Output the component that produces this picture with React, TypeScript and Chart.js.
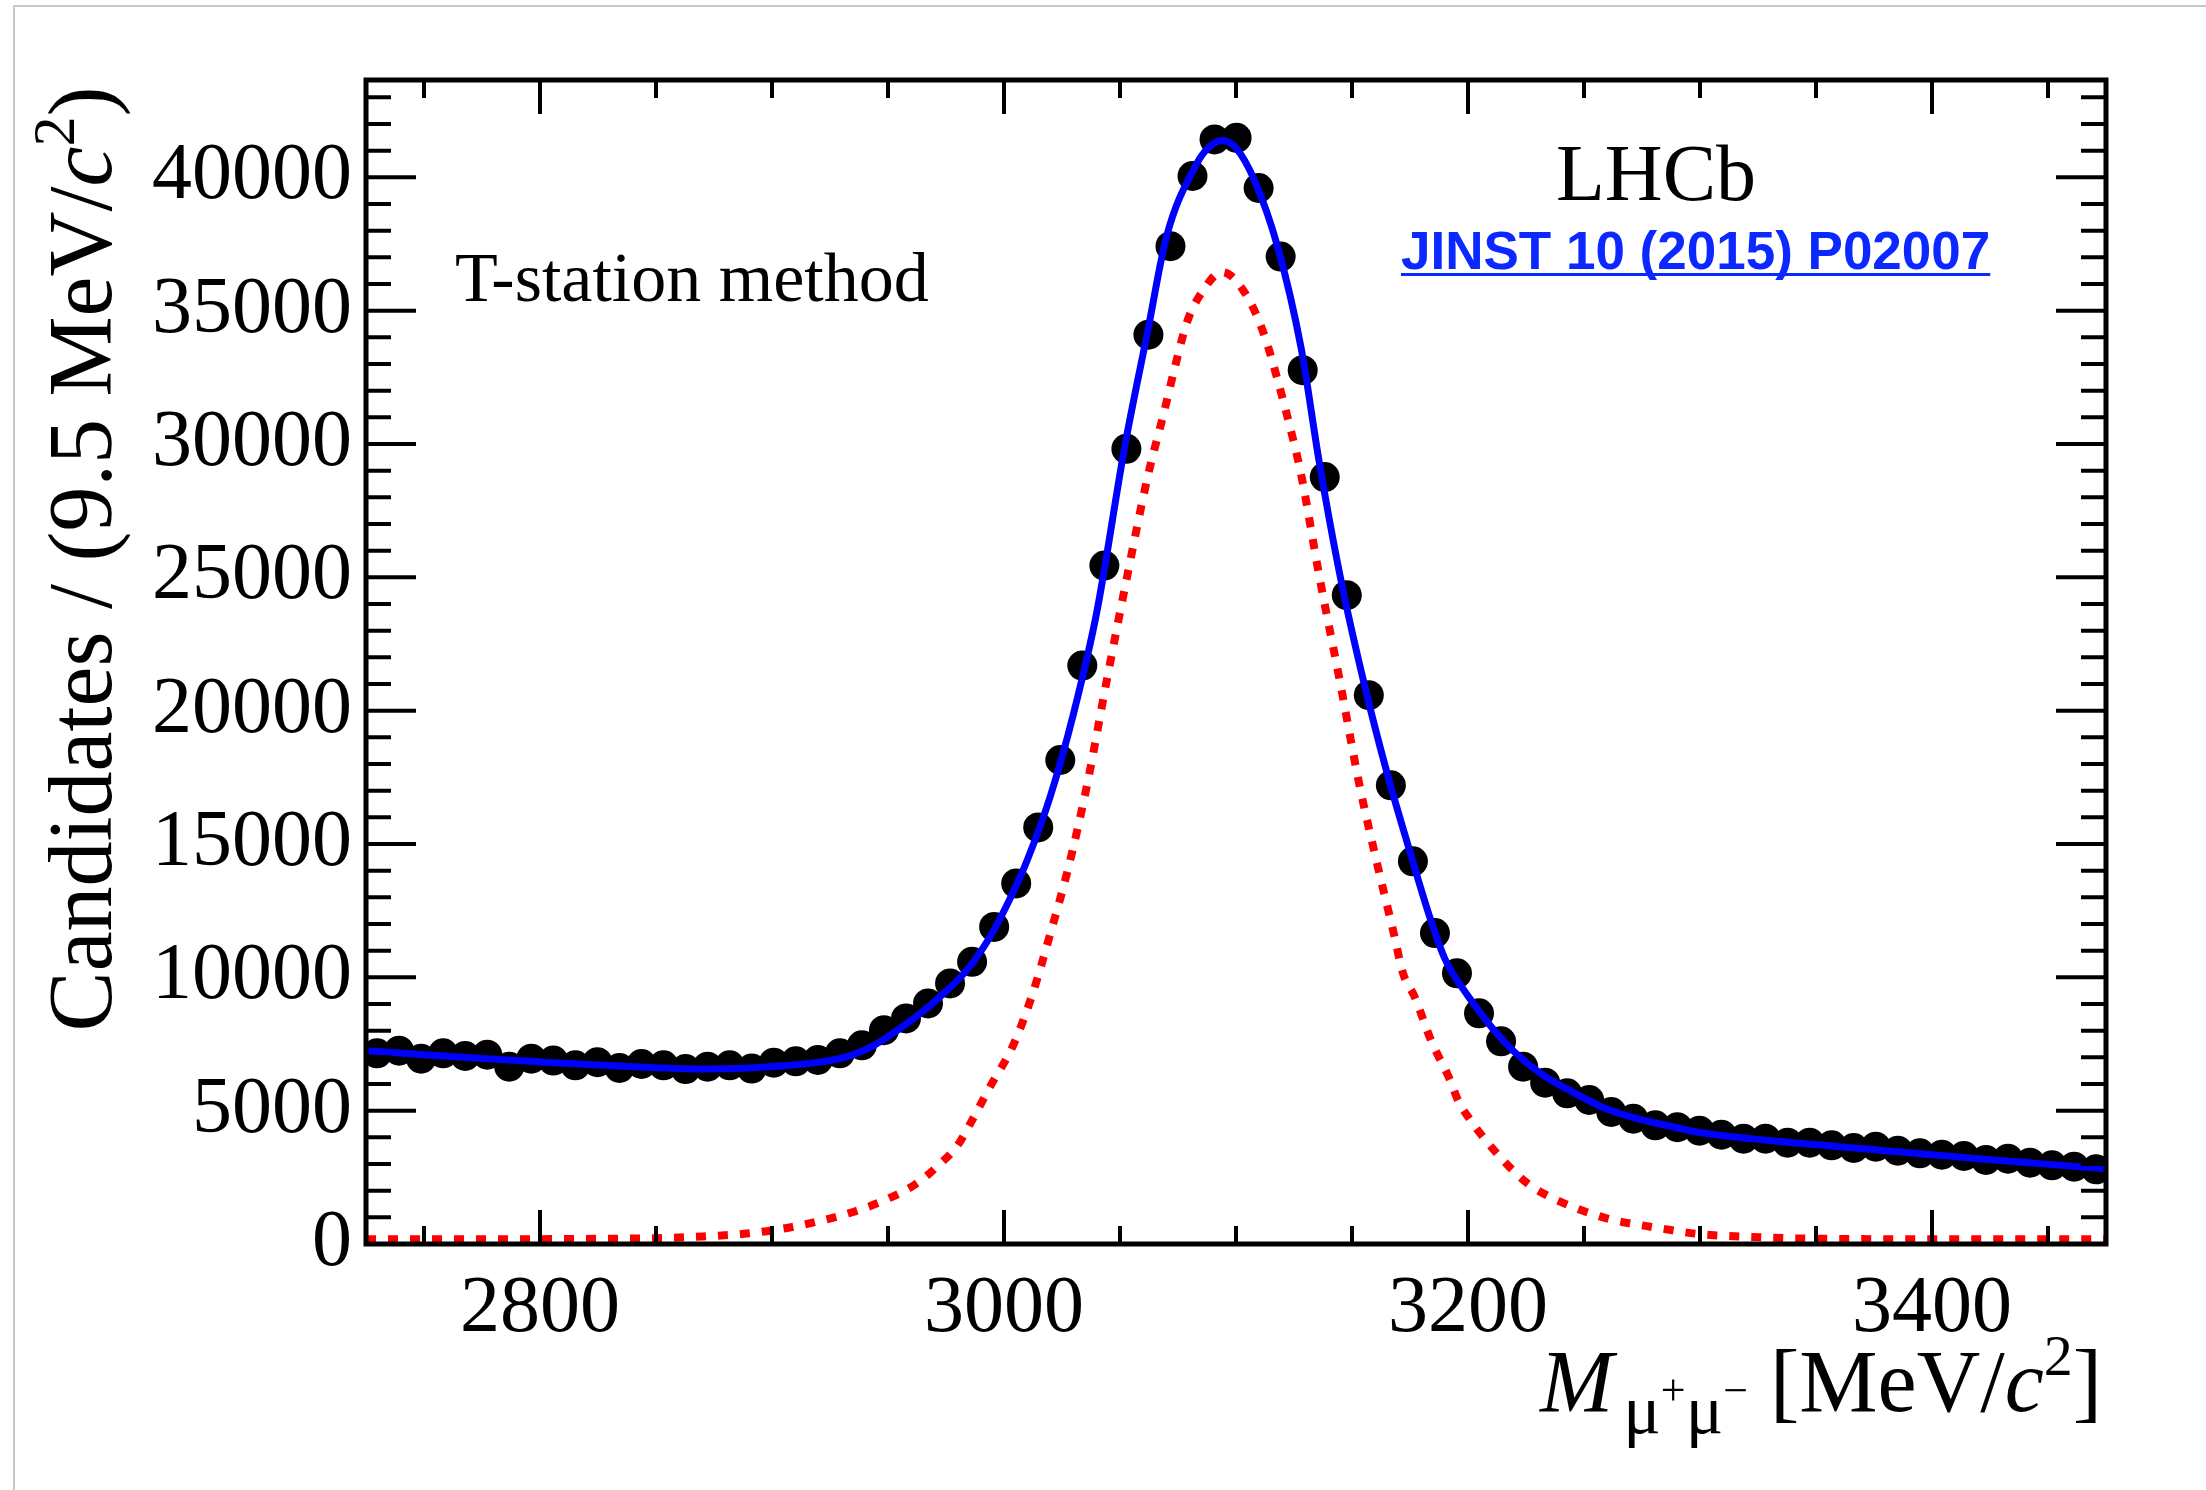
import React, { useEffect, useRef } from 'react';
import { Chart, registerables } from 'chart.js';

Chart.register(...registerables);

// ---- Histogram definition (9.5 MeV/c^2 bins) ----
const BIN_LOW = 2725;
const BIN_WIDTH = 9.5;
const X_MIN = 2725;
const X_MAX = 3475;
const Y_MIN = 0;
const Y_MAX = 43650;

// Candidates per bin
const counts = [
  7150, 7250, 6950, 7150, 7050, 7100, 6650, 6950, 6880, 6700,
  6820, 6600, 6750, 6700, 6560, 6650, 6700, 6580, 6800, 6850,
  6900, 7150, 7450, 8020, 8460, 9020, 9770, 10580, 11890, 13520,
  15620, 18150, 21690, 25440, 29820, 34100, 37420, 40050, 41420, 41480,
  39600, 37030, 32770, 28760, 24330, 20580, 17200, 14350, 11660, 10150,
  8650, 7600, 6650, 6050, 5650, 5400, 4950, 4700, 4450, 4380,
  4250, 4100, 3950, 3950, 3800, 3800, 3700, 3600, 3650, 3500,
  3400, 3350, 3300, 3150, 3200, 3050, 2950, 2900, 2800,
];

// Total fit (blue), sampled from the figure
const fitMass = [
  2725, 2750, 2775, 2800, 2825, 2850, 2870, 2890, 2910, 2925,
  2935, 2945, 2953, 2964, 2974, 2984, 2994, 3003, 3010, 3020,
  3030, 3040, 3052, 3062, 3070, 3083, 3088, 3094, 3100, 3108,
  3118, 3128, 3136, 3145, 3155, 3165, 3175, 3183, 3190, 3200,
  3210, 3220, 3232, 3244, 3258, 3273, 3288, 3300, 3330, 3360,
  3380, 3400, 3420, 3440, 3460, 3475,
];
const fitValues = [
  7250, 7100, 6960, 6830, 6710, 6610, 6560, 6600, 6720, 6880,
  7100, 7500, 7950, 8650, 9400, 10270, 11520, 13020, 14390, 16800,
  19900, 23700, 29880, 34260, 37760, 40500, 41100, 41380, 41100, 39880,
  37380, 33630, 29260, 25000, 21100, 17700, 14700, 12400, 10700, 9300,
  8150, 7200, 6350, 5750, 5130, 4700, 4400, 4180, 3880, 3650,
  3500, 3350, 3200, 3060, 2920, 2820,
];

// Signal component (red dashed), sampled from the figure
const signalMass = [
  2725, 2775, 2820, 2850, 2870, 2890, 2905, 2920, 2935, 2950,
  2962, 2973, 2980, 2986, 2994, 3004, 3012, 3020, 3028, 3036,
  3044, 3053, 3062, 3069, 3074, 3079, 3085, 3094, 3104, 3112,
  3118, 3124, 3128, 3136, 3145, 3153, 3161, 3168, 3172, 3177,
  3184, 3192, 3196, 3201, 3207, 3215, 3226, 3237, 3259, 3282,
  3299, 3326, 3348, 3400, 3475,
];
const signalValues = [
  180, 180, 190, 220, 280, 400, 580, 850, 1200, 1700,
  2250, 3050, 3700, 4600, 5900, 7460, 9300, 11650, 14200, 17300,
  21000, 25000, 28800, 31200, 33000, 34600, 35650, 36450, 35650, 34130,
  32380, 30390, 28890, 25000, 21000, 17300, 14200, 11650, 10150, 9270,
  7650, 6200, 5330, 4650, 3960, 3150, 2250, 1700, 980, 600,
  380, 250, 200, 180, 180,
];

// Axis ticks
const xMajorTicks = [2800, 3000, 3200, 3400];
const xMinorTicks = [2750, 2850, 2900, 2950, 3050, 3100, 3150, 3250, 3300, 3350, 3450];
const yMajorTicks = [0, 5000, 10000, 15000, 20000, 25000, 30000, 35000, 40000];
const Y_MINOR_STEP = 1000;

const SERIF = "'Liberation Serif', 'Times New Roman', serif";
const SANS = "'Liberation Sans', Arial, Helvetica, sans-serif";

type Run = { t: string; f: string; dy?: number };

function runsWidth(ctx: CanvasRenderingContext2D, runs: Run[]) {
  let w = 0;
  for (const r of runs) {
    ctx.font = r.f;
    w += ctx.measureText(r.t).width;
  }
  return w;
}

function drawRuns(ctx: CanvasRenderingContext2D, runs: Run[], x: number, y: number) {
  let cx = x;
  ctx.textAlign = 'left';
  ctx.textBaseline = 'alphabetic';
  for (const r of runs) {
    ctx.font = r.f;
    ctx.fillText(r.t, cx, y + (r.dy || 0));
    cx += ctx.measureText(r.t).width;
  }
}

const rootStylePlugin = {
  id: 'rootStyle',
  beforeDraw(chart: any) {
    const ctx: CanvasRenderingContext2D = chart.ctx;
    ctx.save();
    ctx.fillStyle = '#ffffff';
    ctx.fillRect(0, 0, chart.width, chart.height);
    ctx.strokeStyle = '#c8c8c8';
    ctx.lineWidth = 2;
    ctx.beginPath();
    ctx.moveTo(14, chart.height);
    ctx.lineTo(14, 6);
    ctx.lineTo(chart.width, 6);
    ctx.stroke();
    ctx.restore();
  },
  afterDatasetsDraw(chart: any) {
    const ctx: CanvasRenderingContext2D = chart.ctx;
    const a = chart.chartArea;
    const xs = chart.scales.x;
    const ys = chart.scales.y;
    ctx.save();
    ctx.strokeStyle = '#000';
    ctx.lineWidth = 4;
    ctx.lineCap = 'butt';
    ctx.beginPath();
    const xTick = (v: number, len: number) => {
      const px = xs.getPixelForValue(v);
      ctx.moveTo(px, a.bottom);
      ctx.lineTo(px, a.bottom - len);
      ctx.moveTo(px, a.top);
      ctx.lineTo(px, a.top + len);
    };
    const yTick = (v: number, len: number) => {
      const py = ys.getPixelForValue(v);
      ctx.moveTo(a.left, py);
      ctx.lineTo(a.left + len, py);
      ctx.moveTo(a.right, py);
      ctx.lineTo(a.right - len, py);
    };
    xMajorTicks.forEach((v) => xTick(v, 34));
    xMinorTicks.forEach((v) => xTick(v, 18));
    for (let v = Y_MIN; v <= Y_MAX; v += Y_MINOR_STEP) {
      if (yMajorTicks.indexOf(v) >= 0) yTick(v, 50);
      else yTick(v, 25);
    }
    ctx.stroke();
    ctx.lineWidth = 5;
    ctx.strokeRect(a.left, a.top, a.right - a.left, a.bottom - a.top);
    ctx.restore();
  },
  afterDraw(chart: any) {
    const ctx: CanvasRenderingContext2D = chart.ctx;
    const a = chart.chartArea;
    ctx.save();
    ctx.fillStyle = '#000';

    // Y axis title (rotated)
    const yRuns: Run[] = [
      { t: 'Candidates / (9.5 MeV/', f: `90px ${SERIF}` },
      { t: 'c', f: `italic 90px ${SERIF}` },
      { t: '2', f: `60px ${SERIF}`, dy: -37 },
      { t: ')', f: `90px ${SERIF}` },
    ];
    const yw = runsWidth(ctx, yRuns);
    ctx.save();
    ctx.translate(111, 559);
    ctx.rotate(-Math.PI / 2);
    drawRuns(ctx, yRuns, -yw / 2, 0);
    ctx.restore();

    // X axis title, right-aligned to the frame
    const xRuns: Run[] = [
      { t: 'M', f: `italic 88px ${SERIF}` },
      { t: ' ', f: `40px ${SERIF}` },
      { t: 'μ', f: `70px ${SERIF}`, dy: 22 },
      { t: '+', f: `44px ${SERIF}`, dy: -6 },
      { t: 'μ', f: `70px ${SERIF}`, dy: 22 },
      { t: '−', f: `44px ${SERIF}`, dy: -6 },
      { t: ' [MeV/', f: `88px ${SERIF}` },
      { t: 'c', f: `italic 88px ${SERIF}` },
      { t: '2', f: `58px ${SERIF}`, dy: -36 },
      { t: ']', f: `88px ${SERIF}` },
    ];
    const xw = runsWidth(ctx, xRuns);
    drawRuns(ctx, xRuns, a.right - 4 - xw, 1411);

    // Annotations
    ctx.font = `70px ${SERIF}`;
    ctx.textAlign = 'left';
    ctx.textBaseline = 'alphabetic';
    ctx.fillText('T-station method', 455, 301);

    ctx.font = `80px ${SERIF}`;
    ctx.fillText('LHCb', 1556, 200);

    const ref = 'JINST 10 (2015) P02007';
    ctx.font = `bold 53px ${SANS}`;
    ctx.fillStyle = '#0a28ff';
    ctx.fillText(ref, 1401, 269);
    const rw = ctx.measureText(ref).width;
    ctx.fillRect(1401, 273, rw, 3);
    ctx.restore();
  },
};

export default function App() {
  const canvasRef = useRef<HTMLCanvasElement | null>(null);

  useEffect(() => {
    const canvas = canvasRef.current;
    if (!canvas) return;
    const centers = counts.map((_, i) => BIN_LOW + BIN_WIDTH * (i + 0.5));
    const chart = new Chart(canvas, {
      type: 'scatter',
      data: {
        datasets: [
          {
            label: 'Fit',
            data: fitMass.map((m, i) => ({ x: m, y: fitValues[i] })),
            showLine: true,
            borderColor: '#0000ff',
            backgroundColor: '#0000ff',
            borderWidth: 7,
            pointRadius: 0,
            fill: false,
            cubicInterpolationMode: 'monotone',
            order: 0,
          } as any,
          {
            label: 'Signal',
            data: signalMass.map((m, i) => ({ x: m, y: signalValues[i] })),
            showLine: true,
            borderColor: '#ff0000',
            backgroundColor: '#ff0000',
            borderWidth: 8,
            borderDash: [10, 12],
            pointRadius: 0,
            fill: false,
            cubicInterpolationMode: 'monotone',
            order: 1,
          } as any,
          {
            label: 'Data',
            data: counts.map((c, i) => ({ x: centers[i], y: c })),
            showLine: false,
            backgroundColor: '#000000',
            borderColor: '#000000',
            borderWidth: 0,
            pointRadius: 15,
            order: 2,
          } as any,
        ],
      },
      options: {
        responsive: false,
        animation: false,
        devicePixelRatio: 1,
        layout: { padding: { left: 0, top: 80, right: 100, bottom: 0 }, autoPadding: false } as any,
        plugins: {
          legend: { display: false },
          tooltip: { enabled: false },
          title: { display: false },
        },
        events: [],
        scales: {
          x: {
            type: 'linear',
            position: 'bottom',
            min: X_MIN,
            max: X_MAX,
            grid: { display: false, drawTicks: false },
            border: { display: false },
            afterFit: (s: any) => {
              s.height = 246;
            },
            afterBuildTicks: (s: any) => {
              s.ticks = xMajorTicks.map((v) => ({ value: v }));
            },
            ticks: {
              autoSkip: false,
              maxRotation: 0,
              minRotation: 0,
              padding: 18,
              color: '#000',
              font: { family: SERIF, size: 80 },
              callback: (v: any) => String(v),
            },
          },
          y: {
            type: 'linear',
            position: 'left',
            min: Y_MIN,
            max: Y_MAX,
            grid: { display: false, drawTicks: false },
            border: { display: false },
            afterFit: (s: any) => {
              s.width = 366;
            },
            afterBuildTicks: (s: any) => {
              s.ticks = yMajorTicks.map((v) => ({ value: v }));
            },
            ticks: {
              autoSkip: false,
              padding: 14,
              color: '#000',
              font: { family: SERIF, size: 80 },
              callback: (v: any) => String(v),
            },
          },
        },
      } as any,
      plugins: [rootStylePlugin],
    });
    return () => chart.destroy();
  }, []);

  return (
    <div
      style={{
        position: 'fixed',
        left: 0,
        top: 0,
        width: 2206,
        height: 1490,
        background: '#ffffff',
        overflow: 'hidden',
      }}
    >
      <canvas ref={canvasRef} width={2206} height={1490} style={{ display: 'block' }} />
    </div>
  );
}
